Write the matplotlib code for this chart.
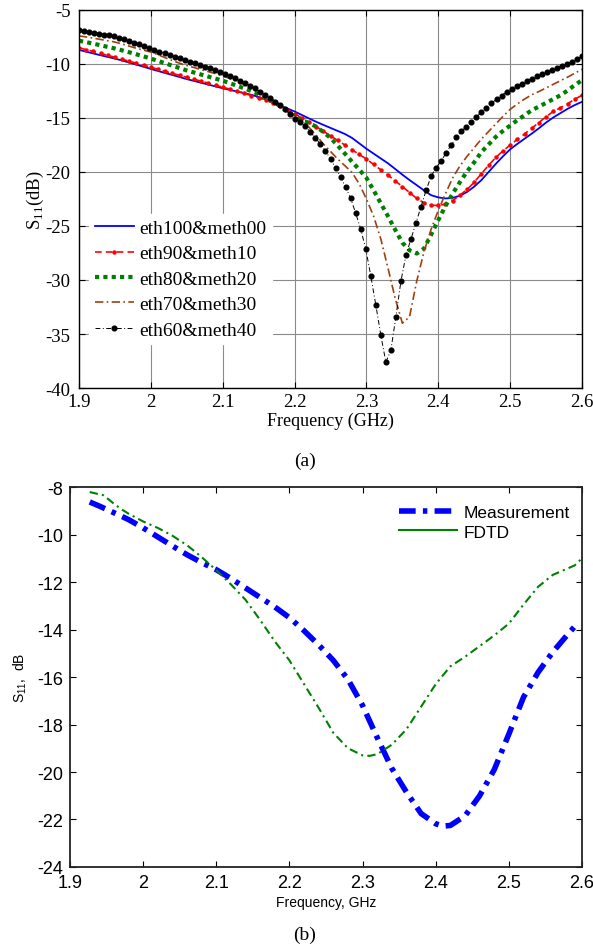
import numpy as np
import matplotlib
matplotlib.use("Agg")
import matplotlib.pyplot as plt
from matplotlib.lines import Line2D

plt.rcParams["axes.unicode_minus"] = False

# ---------------- data: panel (a) ----------------
freq_a = np.round(np.linspace(1.9, 2.6, 71), 3)
eth100_meth00 = [-8.70, -8.86, -9.03, -9.19, -9.35, -9.50, -9.68, -9.87, -10.06, -10.26,
                 -10.46, -10.65, -10.84, -11.02, -11.21, -11.40, -11.57, -11.74, -11.91, -12.08,
                 -12.25, -12.40, -12.55, -12.70, -12.86, -13.05, -13.30, -13.60, -13.86, -14.12,
                 -14.40, -14.72, -15.04, -15.35, -15.64, -15.92, -16.20, -16.48, -16.85, -17.35,
                 -17.85, -18.30, -18.75, -19.20, -19.72, -20.25, -20.75, -21.22, -21.70, -22.15,
                 -22.35, -22.45, -22.40, -22.20, -21.85, -21.35, -20.75, -20.00, -19.25, -18.55,
                 -17.90, -17.40, -16.92, -16.45, -15.95, -15.42, -14.95, -14.55, -14.15, -13.80,
                 -13.50]
eth90_meth10 = [-8.50, -8.67, -8.84, -9.02, -9.20, -9.38, -9.56, -9.74, -9.93, -10.11,
                -10.30, -10.49, -10.68, -10.87, -11.05, -11.23, -11.41, -11.59, -11.78, -11.97,
                -12.15, -12.33, -12.52, -12.72, -12.93, -13.14, -13.36, -13.62, -13.92, -14.25,
                -14.60, -15.00, -15.40, -15.80, -16.22, -16.65, -17.08, -17.50, -17.95, -18.38,
                -18.80, -19.30, -19.80, -20.30, -20.82, -21.35, -21.90, -22.45, -22.85, -23.08,
                -23.10, -22.98, -22.65, -22.15, -21.62, -20.95, -20.15, -19.38, -18.65, -18.05,
                -17.50, -16.98, -16.48, -15.95, -15.42, -14.88, -14.40, -14.05, -13.68, -13.25,
                -12.90]
eth80_meth20 = [-7.85, -7.98, -8.12, -8.27, -8.42, -8.57, -8.74, -8.92, -9.11, -9.30,
                -9.50, -9.72, -9.94, -10.16, -10.38, -10.60, -10.79, -10.98, -11.17, -11.36,
                -11.55, -11.78, -12.02, -12.26, -12.52, -12.80, -13.12, -13.48, -13.90, -14.40,
                -14.90, -15.20, -15.48, -15.80, -16.30, -16.85, -17.55, -18.30, -19.05, -19.78,
                -20.55, -21.70, -22.90, -24.10, -25.35, -26.55, -27.25, -27.55, -27.10, -25.80,
                -24.45, -23.15, -22.00, -20.95, -19.95, -19.10, -18.15, -17.45, -16.75, -16.20,
                -15.70, -15.20, -14.75, -14.28, -13.95, -13.60, -13.25, -12.90, -12.45, -11.95,
                -11.50]
eth70_meth30 = [-7.40, -7.50, -7.61, -7.73, -7.85, -7.97, -8.15, -8.35, -8.55, -8.72,
                -8.90, -9.15, -9.42, -9.68, -9.93, -10.15, -10.33, -10.52, -10.71, -10.90,
                -11.10, -11.36, -11.63, -11.90, -12.18, -12.52, -12.90, -13.30, -13.78, -14.42,
                -15.05, -15.40, -15.85, -16.60, -17.40, -18.10, -18.80, -19.42, -20.05, -21.10,
                -22.50, -24.10, -26.20, -28.90, -31.70, -34.00, -33.40, -30.10, -27.40, -25.30,
                -23.55, -22.00, -20.55, -19.45, -18.55, -17.75, -16.95, -16.25, -15.55, -14.85,
                -14.20, -13.70, -13.25, -12.85, -12.55, -12.22, -11.88, -11.55, -11.22, -10.85,
                -10.50]
freq_b60 = np.round(np.linspace(1.9, 2.6, 101), 3)
eth60_meth40 = [-6.85, -6.93, -7.01, -7.10, -7.19, -7.28, -7.36, -7.45, -7.56, -7.71,
                -7.87, -8.03, -8.19, -8.36, -8.55, -8.71, -8.86, -9.02, -9.18, -9.34,
                -9.49, -9.64, -9.79, -9.94, -10.10, -10.25, -10.41, -10.56, -10.72, -10.89,
                -11.11, -11.33, -11.56, -11.79, -12.03, -12.27, -12.55, -12.86, -13.18, -13.48,
                -13.80, -14.20, -14.65, -15.05, -15.40, -15.78, -16.30, -16.85, -17.42, -18.05,
                -18.80, -19.60, -20.45, -21.40, -22.45, -23.80, -25.30, -27.10, -29.60, -32.30,
                -35.10, -37.60, -36.50, -33.40, -30.10, -27.70, -26.20, -24.70, -23.20, -21.70,
                -20.40, -19.60, -19.00, -18.20, -17.50, -16.80, -16.25, -15.80, -15.38, -14.92,
                -14.45, -14.05, -13.65, -13.25, -12.92, -12.58, -12.28, -12.05, -11.82, -11.60,
                -11.38, -11.15, -10.95, -10.74, -10.55, -10.37, -10.18, -9.98, -9.80, -9.55,
                -9.30]
labels_a = ["eth100&meth00", "eth90&meth10", "eth80&meth20", "eth70&meth30", "eth60&meth40"]

# ---------------- data: panel (b) ----------------
freq_meas = [1.927, 1.94, 1.96, 1.98, 2.00, 2.02, 2.04, 2.06, 2.08, 2.10, 2.12, 2.14, 2.16,
             2.18, 2.20, 2.22, 2.24, 2.26, 2.28, 2.30, 2.32, 2.34, 2.36, 2.38, 2.40, 2.41,
             2.42, 2.44, 2.46, 2.48, 2.50, 2.52, 2.54, 2.56, 2.58, 2.595]
s11_meas = [-8.63, -8.80, -9.08, -9.37, -9.72, -10.10, -10.48, -10.85, -11.18, -11.48, -11.85,
            -12.25, -12.65, -13.05, -13.50, -14.05, -14.65, -15.30, -16.10, -17.20, -18.55,
            -19.85, -20.85, -21.75, -22.18, -22.28, -22.25, -21.85, -21.00, -19.90, -18.40,
            -16.85, -15.80, -14.95, -14.22, -13.70]
freq_fdtd = [1.927, 1.946, 1.96, 1.97, 1.98, 2.00, 2.02, 2.04, 2.06, 2.08, 2.10, 2.12, 2.14,
             2.16, 2.18, 2.20, 2.22, 2.24, 2.26, 2.28, 2.30, 2.31, 2.32, 2.34, 2.36, 2.38,
             2.40, 2.42, 2.44, 2.46, 2.48, 2.50, 2.52, 2.54, 2.56, 2.575, 2.59, 2.60]
s11_fdtd = [-8.21, -8.35, -8.70, -8.93, -9.12, -9.45, -9.72, -10.05, -10.45, -10.95, -11.50,
            -12.10, -12.75, -13.60, -14.50, -15.30, -16.30, -17.30, -18.35, -19.00, -19.30,
            -19.32, -19.25, -18.85, -18.20, -17.25, -16.30, -15.55, -15.15, -14.70, -14.25,
            -13.75, -12.95, -12.20, -11.70, -11.50, -11.30, -11.00]
labels_b = ["Measurement", "FDTD"]

xticks = [1.9, 2.0, 2.1, 2.2, 2.3, 2.4, 2.5, 2.6]
xticklabels = ["1.9", "2", "2.1", "2.2", "2.3", "2.4", "2.5", "2.6"]

SERIF = ["Liberation Serif", "DejaVu Serif"]
SANS = ["Liberation Sans", "DejaVu Sans"]

fig = plt.figure(figsize=(5.93, 9.53), dpi=100)

# ---------------- panel (a) ----------------
ax1 = fig.add_axes([0.1332, 0.5918, 0.8483, 0.3967])
ax1.plot(freq_a, eth100_meth00, color="#0000FF", lw=1.3, ls="-", label=labels_a[0])
ax1.plot(freq_a, eth90_meth10, color="#FF0000", lw=1.2, ls=(0, (4, 2.5)),
         marker="o", ms=2.2, label=labels_a[1])
ax1.plot(freq_a, eth80_meth20, color="#008000", lw=3.0, ls=(0, (1, 1)),
         dash_capstyle="butt", label=labels_a[2])
ax1.plot(freq_a, eth70_meth30, color="#A0400F", lw=1.2, ls=(0, (5, 2, 1, 2)),
         label=labels_a[3])
ax1.plot(freq_b60, eth60_meth40, color="black", lw=0.7, ls=(0, (5, 2.5, 1, 2.5)),
         marker="o", ms=3.4, label=labels_a[4])

ax1.set_xlim(1.9, 2.6)
ax1.set_ylim(-40, -5)
ax1.set_xticks(xticks)
ax1.set_xticklabels(xticklabels)
ax1.set_yticks([-40, -35, -30, -25, -20, -15, -10, -5])
ax1.grid(True, color="#8a8a8a", lw=0.8)
ax1.tick_params(direction="in", length=4, top=True, right=True, labelsize=13.5)
ax1.tick_params(axis="x", pad=3.5)
ax1.tick_params(axis="y", pad=6)
for lab in ax1.get_xticklabels() + ax1.get_yticklabels():
    lab.set_family(SERIF)
for sp in ax1.spines.values():
    sp.set_linewidth(1.0)
ax1.set_xlabel("Frequency (GHz)", family=SERIF, fontsize=13, labelpad=1)
ax1.set_ylabel(r"S$_{\mathregular{11}}$(dB)", family=SERIF, fontsize=13.5, labelpad=0)
leg1 = ax1.legend(loc="lower left", bbox_to_anchor=(0.012, 0.105), borderaxespad=0.2,
                  prop={"family": SERIF, "size": 14}, handlelength=2.0,
                  handletextpad=0.3, labelspacing=0.4, numpoints=1,
                  frameon=True, fancybox=False, framealpha=1.0,
                  facecolor="white", edgecolor="white", borderpad=0.3)

fig.text(0.514, 1 - 461 / 953, "(a)", family=SERIF, fontsize=14, ha="center", va="center")

# ---------------- panel (b) ----------------
ax2 = fig.add_axes([0.118, 0.0892, 0.8635, 0.3987])
ax2.plot(freq_meas, s11_meas, color="#0000FF", lw=4.0, ls=(0, (3, 1.3, 0.8, 1.3)))
ax2.plot(freq_fdtd, s11_fdtd, color="#008000", lw=1.5, ls=(0, (4, 2, 1, 2)))
ax2.set_xlim(1.9, 2.6)
ax2.set_ylim(-24, -8)
ax2.set_xticks(xticks)
ax2.set_xticklabels(xticklabels)
ax2.set_yticks(list(range(-24, -7, 2)))
ax2.tick_params(direction="in", length=4, top=True, right=True, labelsize=13)
ax2.tick_params(axis="x", pad=5)
ax2.tick_params(axis="y", pad=5)
for lab in ax2.get_xticklabels() + ax2.get_yticklabels():
    lab.set_family(SANS)
for sp in ax2.spines.values():
    sp.set_linewidth(1.3)
    sp.set_color("#222222")
ax2.set_xlabel("Frequency, GHz", family=SANS, fontsize=10, labelpad=3)
ax2.set_ylabel(r"S$_{\mathregular{11}}$,  dB", family=SANS, fontsize=10, labelpad=6)
handles_b = [Line2D([0], [0], color="#0000FF", lw=4.0, ls=(0, (3, 1.3, 0.8, 1.3))),
             Line2D([0], [0], color="#008000", lw=1.5, ls="-")]
ax2.legend(handles_b, labels_b, loc="upper right", bbox_to_anchor=(1.0, 0.985),
           prop={"family": SANS, "size": 12.5}, handlelength=3.3, handletextpad=0.4,
           labelspacing=0.25, frameon=False, borderaxespad=0.3)

fig.text(0.514, 1 - 935 / 953, "(b)", family=SERIF, fontsize=14, ha="center", va="center")

fig.savefig("out.png", dpi=100)
